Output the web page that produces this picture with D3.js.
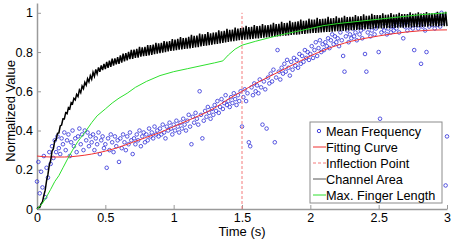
<!DOCTYPE html>
<meta charset="utf-8">
<style>
body { margin: 0; background: #fff; }
text { font-family: "Liberation Sans", Arial, sans-serif; }
</style>
<body>
<script src="https://d3js.org/d3.v7.min.js"></script>
<script>

// Mean frequency: one sample every 0.01 s
var freqStep = 0.01;
var freqValues = [
  0.14, 0.24, 0.08, 0.19, 0.11, 0.27, 0.06, 0.21, 0.16, 0.29,
  0.23, 0.32, 0.26, 0.35, 0.29, 0.37, 0.31, 0.28, 0.36, 0.33,
  0.39, 0.30, 0.35, 0.38, 0.27, 0.34, 0.40, 0.32, 0.36, 0.29,
  0.37, 0.41, 0.33, 0.38, 0.30, 0.40, 0.35, 0.39, 0.32, 0.37,
  0.34, 0.38, 0.30, 0.36, 0.33, 0.39, 0.28, 0.35, 0.37, 0.31,
  0.33, 0.21, 0.36, 0.30, 0.38, 0.34, 0.29, 0.37, 0.32, 0.35,
  0.24, 0.36, 0.31, 0.38, 0.34, 0.30, 0.37, 0.33, 0.39, 0.35,
  0.28, 0.36, 0.33, 0.38, 0.35, 0.40, 0.32, 0.37, 0.39, 0.34,
  0.38, 0.35, 0.41, 0.37, 0.39, 0.36, 0.42, 0.38, 0.40, 0.37,
  0.41, 0.38, 0.43, 0.39, 0.36, 0.42, 0.40, 0.44, 0.41, 0.38,
  0.43, 0.40, 0.45, 0.42, 0.39, 0.44, 0.41, 0.46, 0.43, 0.40,
  0.45, 0.48, 0.42, 0.33, 0.47, 0.44, 0.49, 0.46, 0.43, 0.60,
  0.48, 0.36, 0.45, 0.50, 0.47, 0.52, 0.49, 0.46, 0.51, 0.48,
  0.53, 0.50, 0.55, 0.49, 0.52, 0.56, 0.51, 0.54, 0.58, 0.53,
  0.55, 0.52, 0.57, 0.54, 0.59, 0.56, 0.53, 0.58, 0.55, 0.60,
  0.42, 0.57, 0.61, 0.55, 0.59, 0.34, 0.32, 0.62, 0.58, 0.64,
  0.60, 0.63, 0.59, 0.66, 0.62, 0.43, 0.65, 0.61, 0.41, 0.67,
  0.64, 0.69, 0.65, 0.71, 0.34, 0.67, 0.81, 0.70, 0.66, 0.72,
  0.69, 0.74, 0.70, 0.76, 0.72, 0.68, 0.75, 0.71, 0.77, 0.73,
  0.76, 0.72, 0.79, 0.74, 0.78, 0.75, 0.81, 0.77, 0.80, 0.76,
  0.79, 0.83, 0.77, 0.81, 0.85, 0.78, 0.82, 0.86, 0.80, 0.84,
  0.81, 0.85, 0.83, 0.87, 0.82, 0.86, 0.89, 0.84, 0.88, 0.85,
  0.87, 0.83, 0.90, 0.86, 0.78, 0.70, 0.88, 0.91, 0.85, 0.89,
  0.87, 0.92, 0.88, 0.90, 0.86, 0.93, 0.89, 0.91, 0.87, 0.92,
  0.79, 0.70, 0.90, 0.93, 0.88, 0.91, 0.95, 0.89, 0.92, 0.94,
  0.80, 0.46, 0.90, 0.93, 0.91, 0.95, 0.89, 0.92, 0.96, 0.90,
  0.93, 0.91, 0.95, 0.92, 0.97, 0.90, 0.94, 0.96, 0.87, 0.93,
  0.95, 0.91, 0.98, 0.93, 0.96, 0.92, 0.81, 0.94, 0.97, 0.92,
  0.95, 0.74, 0.93, 0.97, 0.91, 0.80, 0.96, 0.93, 0.98, 0.94,
  0.96, 0.92, 0.99, 0.94, 0.97, 0.93, 1.00, 0.95, 0.98, 0.12,
  0.37
];

// Fitting curve
var fitTimes = [0, 0.1, 0.2, 0.3, 0.4, 0.5, 0.6, 0.7, 0.8, 0.9, 1.0, 1.1, 1.2, 1.3, 1.4, 1.5,
  1.6, 1.7, 1.8, 1.9, 2.0, 2.1, 2.2, 2.3, 2.4, 2.5, 2.6, 2.7, 2.8, 2.9, 3.0];
var fitValues = [0.27, 0.265, 0.265, 0.27, 0.28, 0.295, 0.315, 0.34, 0.365, 0.39, 0.42, 0.45, 0.48,
  0.515, 0.56, 0.60, 0.64, 0.675, 0.71, 0.745, 0.78, 0.81, 0.835, 0.855, 0.87, 0.882, 0.893,
  0.902, 0.908, 0.912, 0.913];

var inflectionTime = 1.5;

// Channel area: one sample every 0.01 s (noisy signal)
var areaStep = 0.01;
var areaValues = [
  0, 0.009, 0.008, 0.026, 0.036, 0.069, 0.096, 0.144, 0.176, 0.224,
  0.247, 0.295, 0.307, 0.348, 0.353, 0.386, 0.388, 0.423, 0.428, 0.46,
  0.459, 0.491, 0.486, 0.517, 0.511, 0.542, 0.536, 0.564, 0.556, 0.584,
  0.573, 0.607, 0.593, 0.627, 0.613, 0.646, 0.631, 0.664, 0.648, 0.68,
  0.661, 0.697, 0.676, 0.711, 0.689, 0.722, 0.699, 0.732, 0.708, 0.74,
  0.713, 0.75, 0.719, 0.756, 0.725, 0.766, 0.731, 0.768, 0.737, 0.774,
  0.74, 0.783, 0.746, 0.792, 0.752, 0.795, 0.758, 0.801, 0.764, 0.811,
  0.765, 0.813, 0.77, 0.816, 0.772, 0.826, 0.776, 0.824, 0.779, 0.827,
  0.78, 0.836, 0.783, 0.835, 0.786, 0.838, 0.789, 0.847, 0.792, 0.844,
  0.794, 0.847, 0.797, 0.856, 0.8, 0.853, 0.803, 0.856, 0.806, 0.866,
  0.807, 0.864, 0.81, 0.867, 0.812, 0.876, 0.814, 0.871, 0.816, 0.873,
  0.817, 0.878, 0.819, 0.888, 0.821, 0.882, 0.823, 0.884, 0.825, 0.894,
  0.829, 0.89, 0.831, 0.892, 0.833, 0.902, 0.835, 0.896, 0.837, 0.899,
  0.84, 0.901, 0.842, 0.911, 0.844, 0.906, 0.846, 0.908, 0.849, 0.918,
  0.852, 0.913, 0.854, 0.915, 0.856, 0.925, 0.858, 0.919, 0.86, 0.922,
  0.862, 0.925, 0.863, 0.934, 0.864, 0.927, 0.866, 0.929, 0.867, 0.938,
  0.869, 0.932, 0.87, 0.933, 0.872, 0.943, 0.873, 0.936, 0.874, 0.938,
  0.876, 0.94, 0.877, 0.949, 0.879, 0.943, 0.88, 0.944, 0.881, 0.954,
  0.883, 0.948, 0.884, 0.949, 0.885, 0.959, 0.887, 0.952, 0.888, 0.954,
  0.889, 0.956, 0.89, 0.965, 0.892, 0.959, 0.893, 0.961, 0.895, 0.97,
  0.896, 0.965, 0.897, 0.966, 0.898, 0.975, 0.899, 0.968, 0.9, 0.969,
  0.901, 0.97, 0.902, 0.979, 0.903, 0.972, 0.904, 0.973, 0.905, 0.982,
  0.906, 0.975, 0.907, 0.976, 0.908, 0.985, 0.909, 0.978, 0.91, 0.979,
  0.911, 0.98, 0.912, 0.989, 0.913, 0.982, 0.914, 0.983, 0.915, 0.992,
  0.916, 0.985, 0.917, 0.986, 0.918, 0.995, 0.919, 0.988, 0.92, 0.989,
  0.921, 0.989, 0.921, 0.998, 0.922, 0.99, 0.922, 0.991, 0.922, 0.999,
  0.923, 0.991, 0.923, 0.992, 0.924, 1.0, 0.924, 0.993, 0.924, 0.993,
  0.925, 0.994, 0.926, 1.002, 0.926, 0.995, 0.927, 0.996, 0.927, 1.003,
  0.928, 0.996, 0.928, 0.997, 0.929, 1.004, 0.929, 0.998, 0.930, 0.998,
  0.930, 0.998, 0.931, 1.005, 0.931, 0.999, 0.932, 1.0, 0.932, 1.005,
  0.932
];

// Max. finger length
var fingerTimes = [0, 0.03, 0.06, 0.1, 0.13, 0.16, 0.19, 0.22, 0.26, 0.3, 0.35, 0.4, 0.44, 0.5,
  0.55, 0.6, 0.66, 0.72, 0.8, 0.9, 1.0, 1.1, 1.2, 1.3, 1.36, 1.4, 1.45, 1.5, 1.6, 1.7, 1.8,
  1.9, 2.0, 2.1, 2.2, 2.4, 2.6, 2.8, 3.0];
var fingerValues = [0, 0.02, 0.05, 0.1, 0.14, 0.17, 0.21, 0.25, 0.30, 0.345, 0.39, 0.44, 0.475,
  0.51, 0.54, 0.565, 0.59, 0.62, 0.65, 0.68, 0.70, 0.715, 0.73, 0.745, 0.755, 0.785, 0.815,
  0.835, 0.855, 0.873, 0.89, 0.905, 0.92, 0.935, 0.945, 0.96, 0.975, 0.99, 1.0];

var xTicks = [0, 0.5, 1, 1.5, 2, 2.5, 3];
var yTicks = [0, 0.2, 0.4, 0.6, 0.8, 1];
var legendLabels = ["Mean Frequency", "Fitting Curve", "Inflection Point", "Channel Area", "Max. Finger Length"];

var width = 454, height = 240;
var margin = {left: 37, right: 7, top: 3, bottom: 31};

var svg = d3.select("body").append("svg")
  .attr("width", width).attr("height", height);

var x = d3.scaleLinear().domain([0, 3]).range([margin.left, width - margin.right]);
var y = d3.scaleLinear().domain([0, 1.05]).range([height - margin.bottom, margin.top]);

// axes (MATLAB style, ticks pointing inward)
var xAxis = d3.axisBottom(x).tickValues(xTicks).tickSizeInner(-4).tickSizeOuter(0).tickPadding(4)
  .tickFormat(d3.format("~g"));
var yAxis = d3.axisLeft(y).tickValues(yTicks).tickSizeInner(-4).tickSizeOuter(0).tickPadding(4)
  .tickFormat(d3.format("~g"));

var gx = svg.append("g").attr("transform", "translate(0," + y(0) + ")").call(xAxis);
var gy = svg.append("g").attr("transform", "translate(" + x(0) + ",0)").call(yAxis);

[gx, gy].forEach(function(g) {
  g.select(".domain").attr("stroke", "#9a9a9a").attr("stroke-width", 1.5);
  g.selectAll(".tick line").attr("stroke", "#9a9a9a");
  g.selectAll(".tick text").attr("fill", "#000")
    .style("font-family", "Liberation Sans, Arial, sans-serif").style("font-size", "12.5px");
});

// axis labels
svg.append("text")
  .attr("x", x(1.5)).attr("y", 236)
  .attr("text-anchor", "middle")
  .style("font-size", "13px")
  .text("Time (s)");

svg.append("text")
  .attr("transform", "translate(15," + y(0.5) + ") rotate(-90)")
  .attr("text-anchor", "middle")
  .style("font-size", "13px")
  .text("Normalized Value");

var plot = svg.append("g");

// mean frequency markers
plot.selectAll("circle.freq").data(freqValues).enter().append("circle")
  .attr("class", "freq")
  .attr("cx", function(d, i) { return x(i * freqStep); })
  .attr("cy", function(d) { return y(d); })
  .attr("r", 1.8)
  .attr("fill", "none")
  .attr("stroke", "#2f2fd8")
  .attr("stroke-opacity", 0.8)
  .attr("stroke-width", 1);

// fitting curve
var fitLine = d3.line()
  .x(function(d, i) { return x(fitTimes[i]); })
  .y(function(d) { return y(d); })
  .curve(d3.curveMonotoneX);

plot.append("path").datum(fitValues)
  .attr("d", fitLine)
  .attr("fill", "none")
  .attr("stroke", "#f03030")
  .attr("stroke-width", 1);

// inflection point
plot.append("line")
  .attr("x1", x(inflectionTime)).attr("x2", x(inflectionTime))
  .attr("y1", y(0)).attr("y2", y(1))
  .attr("stroke", "#f47a7a")
  .attr("stroke-width", 1)
  .attr("stroke-dasharray", "3,2");

// channel area
var areaLine = d3.line()
  .x(function(d, i) { return x(i * areaStep); })
  .y(function(d) { return y(d); });

plot.append("path").datum(areaValues)
  .attr("d", areaLine)
  .attr("fill", "none")
  .attr("stroke", "#000")
  .attr("stroke-width", 1.5);

// max finger length
var fingerLine = d3.line()
  .x(function(d, i) { return x(fingerTimes[i]); })
  .y(function(d) { return y(d); });

plot.append("path").datum(fingerValues)
  .attr("d", fingerLine)
  .attr("fill", "none")
  .attr("stroke", "#2ee02e")
  .attr("stroke-width", 1);

// legend
var legend = svg.append("g").attr("transform", "translate(310,122)");
legend.append("rect")
  .attr("width", 132).attr("height", 81)
  .attr("fill", "#fff")
  .attr("stroke", "#8c8c8c")
  .attr("stroke-width", 1);

var legendStyles = [
  {color: "#2f2fd8", dash: null, marker: true},
  {color: "#f03030", dash: null},
  {color: "#f47a7a", dash: "3,2"},
  {color: "#555", dash: null},
  {color: "#2ee02e", dash: null}
];

var rows = legend.selectAll("g.row").data(legendLabels).enter().append("g")
  .attr("class", "row")
  .attr("transform", function(d, i) { return "translate(0," + (9 + i * 16) + ")"; });

rows.each(function(d, i) {
  var g = d3.select(this), s = legendStyles[i];
  if (s.marker) {
    g.append("circle").attr("cx", 9).attr("cy", 0).attr("r", 1.7)
      .attr("fill", "none").attr("stroke", s.color).attr("stroke-width", 0.9);
  } else {
    g.append("line").attr("x1", 3).attr("x2", 16).attr("y1", 0).attr("y2", 0)
      .attr("stroke", s.color).attr("stroke-width", 1)
      .attr("stroke-dasharray", s.dash);
  }
  g.append("text").attr("x", 16).attr("y", 4.5)
    .style("font-size", "12.7px")
    .attr("fill", "#000")
    .text(d);
});

</script>
</body>
